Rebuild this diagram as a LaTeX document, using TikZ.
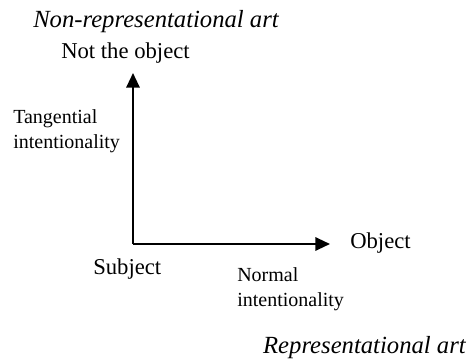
\documentclass[tikz,border=0pt]{standalone}
\usepackage{fontspec}
\setmainfont{Liberation Serif}
\usetikzlibrary{arrows.meta}

\begin{document}
\begin{tikzpicture}[x=0.75pt, y=-0.75pt, >={Triangle[length=11pt, width=10pt]}]
    % 1. Frame and styles
    \useasboundingbox (0,0) rectangle (467,363);
    \tikzset{
        big/.style={inner sep=0pt, font=\fontsize{17}{20}\selectfont},
        artlabel/.style={inner sep=0pt, font=\fontsize{18.5}{22}\selectfont\itshape},
        small/.style={inner sep=0pt, align=left, font=\fontsize{15}{19}\selectfont},
        axis/.style={line width=1.6pt, ->}
    }

    % 2. Origin and tip of the vertical axis
    \coordinate (O) at (133,244);
    \coordinate (T) at (133,73);

    % 3. Labels
    \node[artlabel, anchor=base west] (nonrep) at (33,28) {Non-representational art};
    \node[big, anchor=base west] (notobj) at (61,59) {Not the object};
    \node[small, anchor=north west] (tang) at (13,109) {Tangential\\intentionality};
    \node[big, anchor=base west] (object) at (350,248) {Object};
    \node[big, anchor=base west] (subject) at (93,274) {Subject};
    \node[small, anchor=north west] (normal) at (237,267) {Normal\\intentionality};
    \node[artlabel, anchor=base east] (rep) at (466,353) {Representational art};

    % 4. Axes
    \draw[axis] (O) -- (T);
    \draw[axis, shorten >=15pt] (O) -- (object.west |- O);
\end{tikzpicture}
\end{document}
